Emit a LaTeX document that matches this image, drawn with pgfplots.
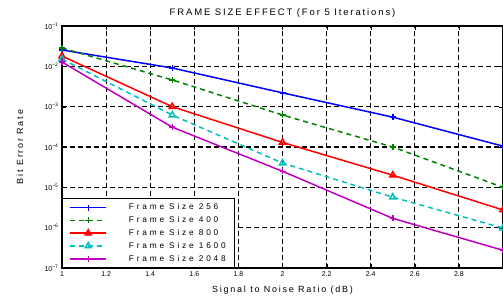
\documentclass[border=0pt]{standalone}
\usepackage{fontspec}
\setmainfont{Liberation Sans}
\newfontfamily\spaced[LetterSpace=20]{Liberation Sans}
\newfontfamily\legspaced[LetterSpace=34]{Liberation Sans}
\usepackage{pgfplots}
\pgfplotsset{compat=1.18}
\definecolor{mgreen}{RGB}{0,128,0}
\definecolor{mcyan}{RGB}{0,191,191}
\definecolor{mmag}{RGB}{191,0,191}
\begin{document}
\begin{tikzpicture}
\begin{semilogyaxis}[
  name=ax, scale only axis, width=441bp, height=242bp,
  xmin=1, xmax=3, ymin=1e-7, ymax=1e-1,
  xtick={1,1.2,1.4,1.6,1.8,2,2.2,2.4,2.6,2.8},
  ytick={1e-7,1e-6,1e-5,1e-4,1e-3,1e-2,1e-1},
  yticklabels={10\textsuperscript{−7},10\textsuperscript{−6},10\textsuperscript{−5},10\textsuperscript{−4},10\textsuperscript{−3},10\textsuperscript{−2},10\textsuperscript{−1}},
  yminorticks=false,
  /pgf/number format/assume math mode=true,
  tick label style={font=\fontsize{7}{8}\selectfont},
  grid=major,
  major grid style={black, dash pattern=on 5bp off 3bp, line width=1.1bp},
  axis line style={black, line width=1.4bp},
  tick style={black},
  title={FRAME SIZE EFFECT (For 5 Iterations)},
  title style={font=\spaced\fontsize{9.5}{11}\selectfont, at={(0.5,1.028)}, anchor=center},
  xlabel={Signal to Noise Ratio (dB)},
  xlabel style={font=\spaced\fontsize{9}{10}\selectfont, at={(0.5,-0.0909)}, anchor=center},
  ylabel={Bit Error Rate},
  ylabel style={font=\spaced\fontsize{9}{10}\selectfont, at={(-0.0952,0.5)}, anchor=center},
  legend style={at={(0,0)}, anchor=south west, draw=black, line width=1bp,
    font=\legspaced\fontsize{8.3}{9}\selectfont, row sep=1.3bp, column sep=20bp,
    inner xsep=7bp, inner ysep=3bp},
  legend cell align=left,
  legend image code/.code={\draw[mark repeat=2,mark phase=2,#1] plot coordinates {(0bp,0bp) (18bp,0bp) (36bp,0bp)};},
]
\addplot[blue, line width=1.5bp, mark=+, mark size=3bp] coordinates {(1,0.0254) (1.5,0.0091) (2,0.0022) (2.5,5.5e-4) (3,1.05e-4)};
\addlegendentry{Frame Size 256}
\addplot[mgreen, line width=1.5bp, dash pattern=on 5bp off 4bp, mark=+, mark size=3bp, mark options={solid}] coordinates {(1,0.0285) (1.5,4.6e-3) (2,6.2e-4) (2.5,1.0e-4) (3,1.0e-5)};
\addlegendentry{Frame Size 400}
\addplot[red, line width=1.5bp, mark=triangle, mark size=3.5bp] coordinates {(1,0.018) (1.5,1.0e-3) (2,1.3e-4) (2.5,2.0e-5) (3,2.75e-6)};
\addlegendentry{Frame Size 800}
\addplot[mcyan, line width=1.5bp, dash pattern=on 5bp off 4bp, mark=triangle, mark size=3.5bp, mark options={solid}] coordinates {(1,0.0151) (1.5,6.2e-4) (2,4.0e-5) (2.5,5.7e-6) (3,9.8e-7)};
\addlegendentry{Frame Size 1600}
\addplot[mmag, line width=1.5bp, mark=+, mark size=3bp] coordinates {(1,0.0128) (1.5,3.1e-4) (2,2.5e-5) (2.5,1.7e-6) (3,2.75e-7)};
\addlegendentry{Frame Size 2048}
\end{semilogyaxis}
\pgfresetboundingbox
\path ([shift={(-62bp,-30bp)}]ax.south west) rectangle ([shift={(0bp,26bp)}]ax.north east);
\end{tikzpicture}
\end{document}
